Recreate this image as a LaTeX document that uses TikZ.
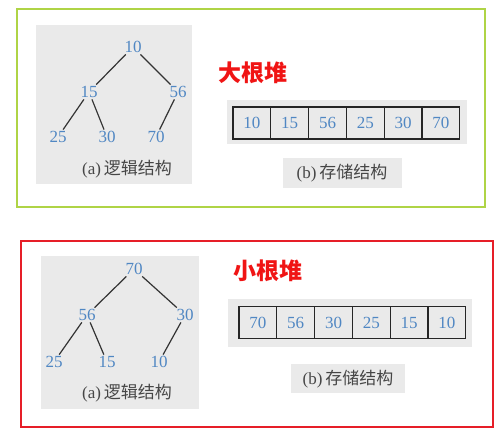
\documentclass[tikz,border=0pt]{standalone}
\usepackage{fontspec}
\setmainfont{Liberation Serif}
\newfontfamily\cjk{Noto Sans CJK SC}
\definecolor{numblue}{RGB}{80,135,195}
\definecolor{boxgray}{RGB}{234,234,234}
\definecolor{greenline}{RGB}{175,212,70}
\definecolor{redline}{RGB}{230,30,40}
\definecolor{titlered}{RGB}{240,20,20}
\definecolor{labelgray}{RGB}{70,70,70}
\tikzset{
  num/.style={text=numblue,font=\fontsize{17}{17}\selectfont,inner sep=1.5pt},
  edge/.style={draw=black!80,line width=1.2pt},
  cell/.style={draw=black!85,line width=1.2pt,fill=boxgray,minimum width=37.8pt,minimum height=32pt,inner sep=0pt,text=numblue,font=\fontsize{17}{17}\selectfont},
  caption/.style={text=labelgray,font=\fontsize{17}{17}\selectfont,inner sep=0pt},
  title/.style={text=titlered,font=\cjk\bfseries\fontsize{23}{23}\selectfont,inner sep=0pt}
}
\begin{document}
\begin{tikzpicture}[x=1pt,y=-1pt]
\useasboundingbox[fill=white] (0,0) rectangle (501,436);
% frames
\draw[greenline,line width=1.3pt] (17,9) rectangle (485,207);
\draw[redline,line width=1.3pt] (21,241) rectangle (493,427);
% upper panel
\fill[boxgray] (36,25) rectangle (192,184);
\node[num] (t1) at (133,47) {10};
\node[num] (t2) at (89,92) {15};
\node[num] (t3) at (178,92) {56};
\node[num] (t4) at (58,137) {25};
\node[num] (t5) at (107,137) {30};
\node[num] (t6) at (156,137) {70};
\draw[edge] (t1) -- (t2);
\draw[edge] (t1) -- (t3);
\draw[edge] (t2) -- (t4);
\draw[edge] (t2) -- (t5);
\draw[edge] (t3) -- (t6);
\node[caption] (la) at (127,169) {(a)\,{\cjk 逻辑结构}};
\node[title] (big) at (253,73) {大根堆};
\fill[boxgray] (227,100) rectangle (467,144);
\foreach \v [count=\i] in {10,15,56,25,30,70}
  \node[cell] (a\i) at ({233+37.8*(\i-0.5)},123) {\v};
\fill[boxgray] (283,158) rectangle (402,188);
\node[caption] (lb) at (342,173) {(b)\,{\cjk 存储结构}};
% lower panel
\fill[boxgray] (41,256) rectangle (199,409);
\node[num] (s1) at (134,269) {70};
\node[num] (s2) at (87,315) {56};
\node[num] (s3) at (185,315) {30};
\node[num] (s4) at (54,362) {25};
\node[num] (s5) at (107,362) {15};
\node[num] (s6) at (159,362) {10};
\draw[edge] (s1) -- (s2);
\draw[edge] (s1) -- (s3);
\draw[edge] (s2) -- (s4);
\draw[edge] (s2) -- (s5);
\draw[edge] (s3) -- (s6);
\node[caption] (ma) at (127,393) {(a)\,{\cjk 逻辑结构}};
\node[title] (small) at (268,271) {小根堆};
\fill[boxgray] (228,299) rectangle (472,347);
\foreach \v [count=\i] in {70,56,30,25,15,10}
  \node[cell] (b\i) at ({239+37.8*(\i-0.5)},322.5) {\v};
\fill[boxgray] (291,364) rectangle (405,393);
\node[caption] (mb) at (348,379) {(b)\,{\cjk 存储结构}};
\end{tikzpicture}
\end{document}
